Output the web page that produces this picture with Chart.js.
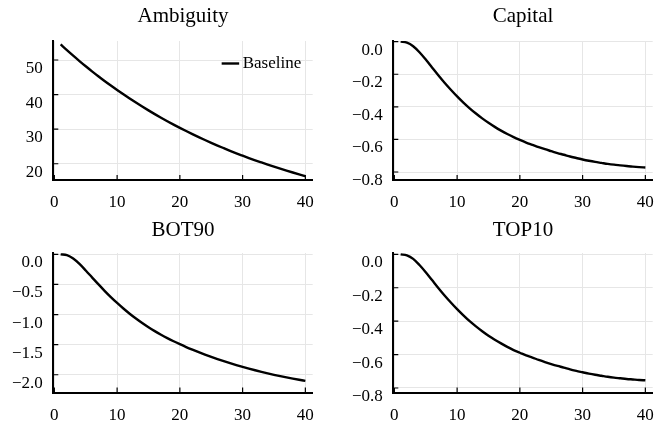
<!DOCTYPE html>
<html>
<head>
<meta charset="utf-8">
<script src="https://cdn.jsdelivr.net/npm/chart.js@4.4.1/dist/chart.umd.min.js"></script>
<style>
  html, body { margin: 0; padding: 0; background: #ffffff; }
  #wrap { position: relative; width: 656px; height: 424px; overflow: hidden; }
  canvas { position: absolute; }
</style>
</head>
<body>
<div id="wrap">
  <canvas id="ambiguityChart" width="328" height="212" style="left:0;top:0"></canvas>
  <canvas id="capitalChart" width="328" height="212" style="left:328px;top:0"></canvas>
  <canvas id="bot90Chart" width="328" height="212" style="left:0;top:212px"></canvas>
  <canvas id="top10Chart" width="328" height="212" style="left:328px;top:212px"></canvas>
</div>
<script>
// Impulse responses over 40 periods
const periods = [1, 2, 3, 4, 5, 6, 7, 8, 9, 10, 11, 12, 13, 14, 15, 16, 17, 18, 19, 20,
                 21, 22, 23, 24, 25, 26, 27, 28, 29, 30, 31, 32, 33, 34, 35, 36, 37, 38, 39, 40];

const ambiguity = [54.50, 52.85, 51.25, 49.70, 48.19, 46.73, 45.32, 43.94, 42.61, 41.32,
                   40.07, 38.86, 37.68, 36.54, 35.43, 34.36, 33.32, 32.31, 31.33, 30.38,
                   29.46, 28.57, 27.70, 26.86, 26.05, 25.26, 24.50, 23.75, 23.03, 22.34,
                   21.66, 21.00, 20.37, 19.75, 19.15, 18.57, 18.01, 17.47, 16.94, 16.42];

const capital = [0, -0.006, -0.028, -0.065, -0.110, -0.158, -0.206, -0.252, -0.295, -0.336,
                 -0.374, -0.409, -0.441, -0.471, -0.498, -0.523, -0.546, -0.567, -0.586, -0.603,
                 -0.619, -0.633, -0.647, -0.660, -0.672, -0.684, -0.694, -0.705, -0.714, -0.723,
                 -0.731, -0.738, -0.744, -0.750, -0.755, -0.759, -0.763, -0.767, -0.770, -0.772];

const bot90 = [0, -0.015, -0.070, -0.160, -0.268, -0.382, -0.496, -0.606, -0.710, -0.808,
               -0.900, -0.986, -1.066, -1.141, -1.211, -1.276, -1.336, -1.392, -1.444, -1.493,
               -1.540, -1.584, -1.626, -1.666, -1.704, -1.740, -1.775, -1.808, -1.840, -1.870,
               -1.899, -1.926, -1.952, -1.977, -2.001, -2.023, -2.044, -2.064, -2.083, -2.101];

const top10 = [0, -0.006, -0.027, -0.064, -0.107, -0.154, -0.201, -0.246, -0.288, -0.328,
               -0.365, -0.400, -0.431, -0.460, -0.487, -0.511, -0.533, -0.554, -0.573, -0.589,
               -0.605, -0.618, -0.632, -0.645, -0.657, -0.668, -0.678, -0.689, -0.698, -0.706,
               -0.714, -0.721, -0.727, -0.733, -0.738, -0.742, -0.746, -0.749, -0.752, -0.754];

// Tick values and labels
const xTicks = [0, 10, 20, 30, 40];
const xTickLabels = ['0', '10', '20', '30', '40'];
const ambiguityTicks = [20, 30, 40, 50];
const ambiguityTickLabels = ['20', '30', '40', '50'];
const shareTicks = [0, -0.2, -0.4, -0.6, -0.8];
const shareTickLabels = ['0.0', '\u22120.2', '\u22120.4', '\u22120.6', '\u22120.8'];
const bot90Ticks = [0, -0.5, -1.0, -1.5, -2.0];
const bot90TickLabels = ['0.0', '\u22120.5', '\u22121.0', '\u22121.5', '\u22122.0'];

const seriesName = 'Baseline';
const FONT = '"Liberation Serif", "Times New Roman", serif';

// Short inward tick marks on the left and bottom axes
const innerTicks = {
  id: 'innerTicks',
  afterDraw(chart) {
    const { ctx, chartArea: a, scales: { x, y } } = chart;
    ctx.save();
    ctx.strokeStyle = '#000';
    ctx.lineWidth = 1.2;
    ctx.beginPath();
    x.ticks.forEach((t, i) => {
      const px = x.getPixelForTick(i);
      ctx.moveTo(px, a.bottom);
      ctx.lineTo(px, a.bottom - 5);
    });
    y.ticks.forEach((t, i) => {
      const py = y.getPixelForTick(i);
      ctx.moveTo(a.left, py);
      ctx.lineTo(a.left + 5, py);
    });
    ctx.stroke();
    ctx.restore();
  }
};

// Borderless legend in the upper right corner of the plot area
const cornerLegend = {
  id: 'cornerLegend',
  afterDraw(chart, args, opts) {
    if (!opts.show) return;
    const { ctx, chartArea: a } = chart;
    const ds = chart.data.datasets[0];
    ctx.save();
    ctx.font = '17px ' + FONT;
    const tw = ctx.measureText(ds.label).width;
    const textLeft = a.right - 11.5 - tw;
    const cy = a.top + 22.5;
    ctx.strokeStyle = ds.borderColor;
    ctx.lineWidth = ds.borderWidth;
    ctx.beginPath();
    ctx.moveTo(textLeft - 21, cy);
    ctx.lineTo(textLeft - 3.5, cy);
    ctx.stroke();
    ctx.fillStyle = '#000';
    ctx.textBaseline = 'middle';
    ctx.textAlign = 'left';
    ctx.fillText(ds.label, textLeft, cy + 0.5);
    ctx.restore();
  }
};

function makePanel(id, title, values, yMin, yMax, yTicks, yLabels, opt) {
  const points = periods.map((p, i) => ({ x: p, y: values[i] }));
  return new Chart(document.getElementById(id), {
    type: 'line',
    data: {
      datasets: [{
        label: seriesName,
        data: points,
        borderColor: '#000000',
        borderWidth: 2.4,
        pointRadius: 0,
        cubicInterpolationMode: 'monotone',
        fill: false
      }]
    },
    options: {
      responsive: false,
      animation: false,
      events: [],
      layout: { padding: { left: 0, right: opt.right, top: 0, bottom: 0 } },
      plugins: {
        legend: { display: false },
        tooltip: { enabled: false },
        title: {
          display: true,
          text: title,
          fullSize: false,
          color: '#000',
          font: { family: FONT, size: 21, weight: 'normal', lineHeight: 1.2 },
          padding: { top: opt.titleTop, bottom: 15.8 - opt.titleTop }
        },
        cornerLegend: { show: !!opt.legend }
      },
      scales: {
        x: {
          type: 'linear',
          min: -0.17,
          max: 41.17,
          afterBuildTicks: s => { s.ticks = xTicks.map(v => ({ value: v })); },
          afterFit: s => { s.height = opt.xHeight; s.paddingLeft = 0; s.paddingRight = 0; },
          grid: { color: '#e6e6e6', lineWidth: 1, drawTicks: false },
          border: { display: true, color: '#000', width: 2 },
          ticks: {
            autoSkip: false,
            maxRotation: 0,
            padding: 12.5,
            color: '#000',
            font: { family: FONT, size: 17 },
            callback: (v, i) => xTickLabels[i]
          }
        },
        y: {
          type: 'linear',
          min: yMin,
          max: yMax,
          afterBuildTicks: s => { s.ticks = yTicks.map(v => ({ value: v })); },
          afterFit: s => { s.width = opt.yWidth; s.paddingTop = 0; s.paddingBottom = 0; },
          grid: { color: '#e6e6e6', lineWidth: 1, drawTicks: false },
          border: { display: true, color: '#000', width: 2 },
          ticks: {
            autoSkip: false,
            padding: 10.5,
            labelOffset: 8.5,
            color: '#000',
            font: { family: FONT, size: 17 },
            callback: (v, i) => yLabels[i]
          }
        }
      }
    },
    plugins: [innerTicks, cornerLegend]
  });
}

makePanel('ambiguityChart', 'Ambiguity', ambiguity, 15.3, 55.5, ambiguityTicks, ambiguityTickLabels,
  { right: 15.3, yWidth: 53.3, xHeight: 32, titleTop: 3.4, legend: true });
makePanel('capitalChart', 'Capital', capital, -0.849, 0.004, shareTicks, shareTickLabels,
  { right: 3.3, yWidth: 65.3, xHeight: 32, titleTop: 3.4 });
makePanel('bot90Chart', 'BOT90', bot90, -2.295, 0.022, bot90Ticks, bot90TickLabels,
  { right: 15.3, yWidth: 53.3, xHeight: 31.5, titleTop: 5.4 });
makePanel('top10Chart', 'TOP10', top10, -0.827, 0.008, shareTicks, shareTickLabels,
  { right: 3.3, yWidth: 65.3, xHeight: 31.5, titleTop: 5.4 });
</script>
</body>
</html>
